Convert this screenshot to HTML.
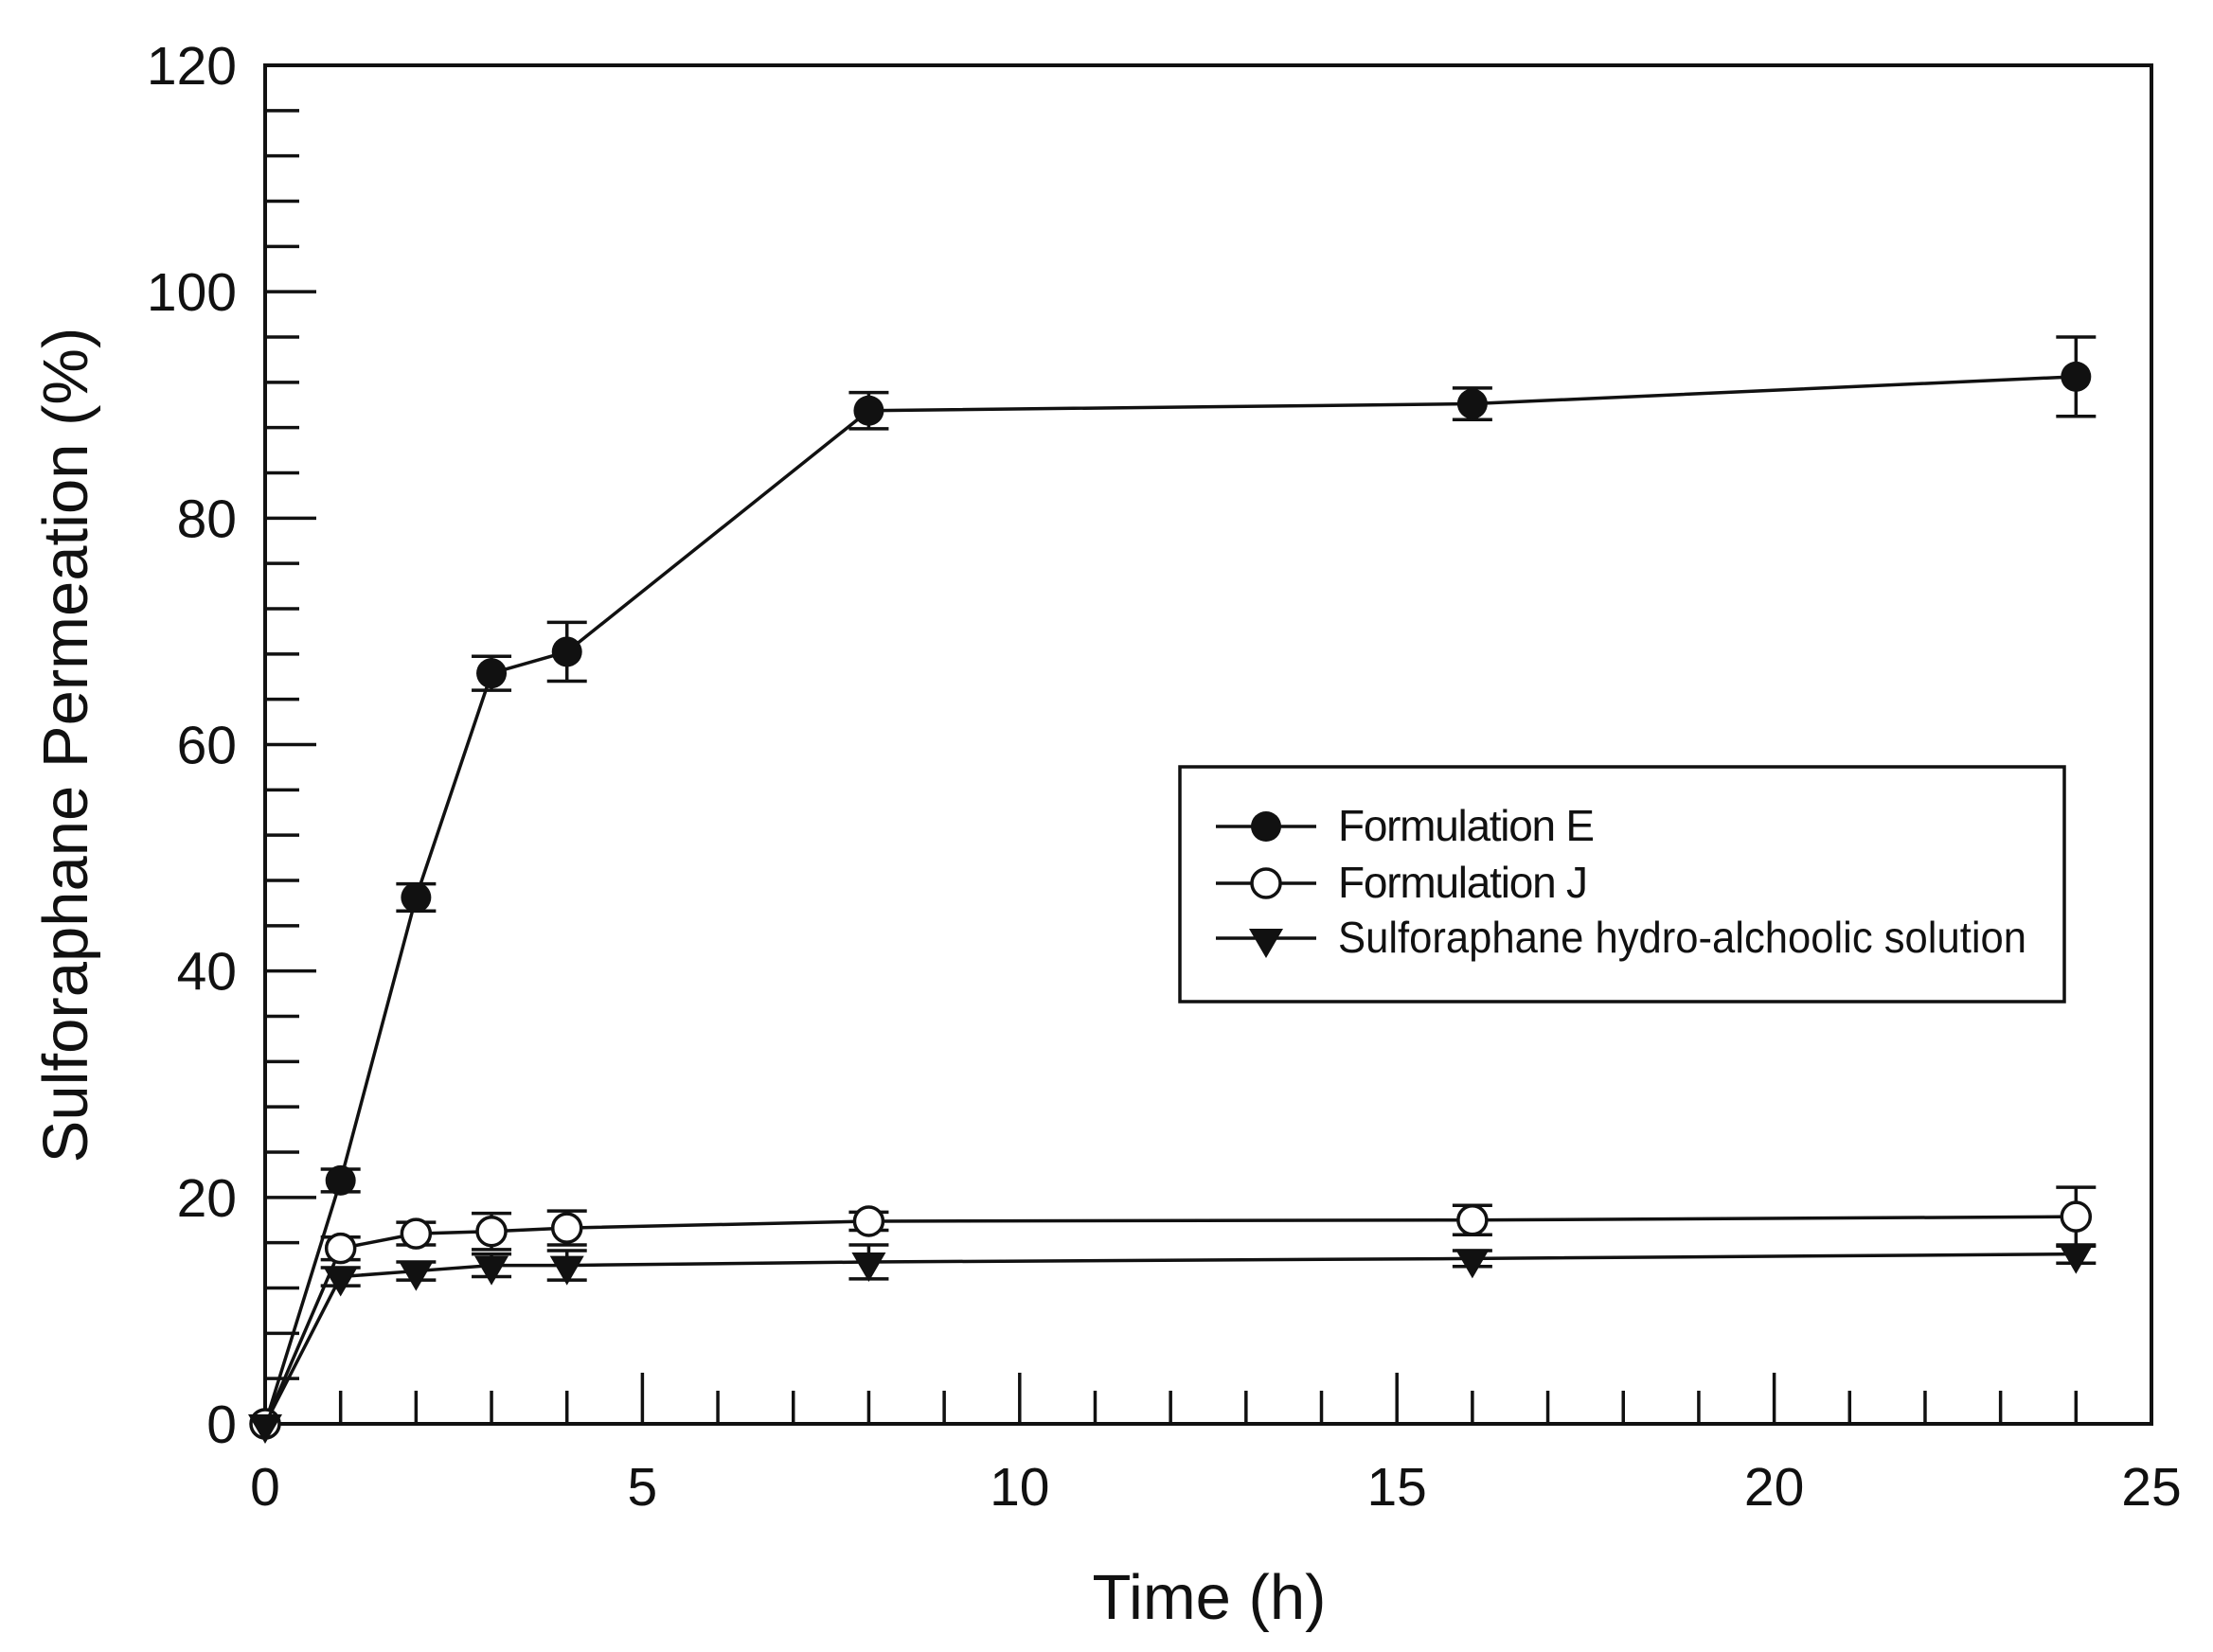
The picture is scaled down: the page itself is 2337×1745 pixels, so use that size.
<!DOCTYPE html>
<html><head><meta charset="utf-8"><style>html,body{margin:0;padding:0;background:#fff}svg{display:block}</style></head>
<body>
<svg id="s" width="2337" height="1745" xmlns="http://www.w3.org/2000/svg" font-family="Liberation Sans, Arial, sans-serif">
<rect width="2337" height="1745" fill="#fff"/>
<g id="g"></g>
<text x="1277" y="1710" font-size="67" text-anchor="middle" fill="#111">Time (h)</text>
<text transform="translate(92,787) rotate(-90)" font-size="67" text-anchor="middle" fill="#111">Sulforaphane Permeation (%)</text>
<rect x="1246" y="810" width="934" height="248" fill="#fff" stroke="#111" stroke-width="3.5"/>
<line x1="1284" y1="873" x2="1390" y2="873" stroke="#111" stroke-width="3.5"/>
<circle cx="1337" cy="873" r="16" fill="#111"/>
<line x1="1284" y1="933" x2="1390" y2="933" stroke="#111" stroke-width="3.5"/>
<circle cx="1337" cy="933" r="15" fill="#fff" stroke="#111" stroke-width="3.5"/>
<line x1="1284" y1="991" x2="1390" y2="991" stroke="#111" stroke-width="3.5"/>
<polygon points="1319,981 1355,981 1337,1012" fill="#111"/>
<text x="1413" y="888" font-size="46" fill="#111" textLength="271">Formulation E</text>
<text x="1413" y="948" font-size="46" fill="#111" textLength="264">Formulation J</text>
<text x="1413" y="1006" font-size="46" fill="#111" textLength="727" lengthAdjust="spacingAndGlyphs">Sulforaphane hydro-alchoolic solution</text>
</svg>
<script>
var L=280,R=2272,T=69,B=1504;
function X(v){return L+(R-L)*v/25}function Y(v){return B-(B-T)*v/120}
var h='';
h+='<path d="M'+L+' '+T+'H'+R+'V'+B+'H'+L+'Z" fill="none" stroke="#111" stroke-width="4"/>';
for(var i=0;i<=120;i+=4){var y=Y(i);var len=(i%20==0)?54:36;if(i>0&&i<120)h+='<line x1="'+L+'" x2="'+(L+len)+'" y1="'+y+'" y2="'+y+'" stroke="#111" stroke-width="3.5"/>';
if(i%20==0)h+='<text x="250" y="'+(y+20)+'" font-size="57" text-anchor="end" fill="#111">'+i+'</text>';}
for(var i=0;i<=25;i++){var x=X(i);var len=(i%5==0)?54:35;if(i>0&&i<25)h+='<line x1="'+x+'" x2="'+x+'" y1="'+B+'" y2="'+(B-len)+'" stroke="#111" stroke-width="3.5"/>';
if(i%5==0)h+='<text x="'+x+'" y="1590" font-size="57" text-anchor="middle" fill="#111">'+i+'</text>';}
var t=[0,1,2,3,4,8,16,24];
var S=[
 {d:[0,21.5,46.5,66.3,68.2,89.5,90.1,92.5],e:[0,1,1.2,1.5,2.6,1.6,1.4,3.5],m:'fc'},
 {d:[0,15.5,16.8,17,17.3,17.9,18,18.3],e:[0,1,1,1.6,1.5,0.8,1.3,2.6],m:'oc'},
 {d:[0,13,13.5,14,14,14.3,14.6,15],e:[0,0.8,0.8,1,1.3,1.5,0.7,0.8],m:'tr'}];
S.forEach(function(s){
 var p=t.map(function(v,k){return X(v)+','+Y(s.d[k])}).join(' ');
 h+='<polyline points="'+p+'" fill="none" stroke="#111" stroke-width="3.5"/>';
 t.forEach(function(v,k){var x=X(v),y=Y(s.d[k]),e=s.e[k];
  if(e>0){var y1=Y(s.d[k]+e),y2=Y(s.d[k]-e);
   h+='<path d="M'+x+' '+y1+'V'+y2+'M'+(x-21)+' '+y1+'H'+(x+21)+'M'+(x-21)+' '+y2+'H'+(x+21)+'" stroke="#111" stroke-width="3.5" fill="none"/>';}
  if(s.m=='fc')h+='<circle cx="'+x+'" cy="'+y+'" r="16" fill="#111"/>';
  else if(s.m=='oc')h+='<circle cx="'+x+'" cy="'+y+'" r="15" fill="#fff" stroke="#111" stroke-width="3.5"/>';
  else h+='<polygon points="'+(x-18)+','+(y-10)+' '+(x+18)+','+(y-10)+' '+x+','+(y+21)+'" fill="#111"/>';
 });
});
document.getElementById('g').innerHTML=h;
</script>
</body></html>
